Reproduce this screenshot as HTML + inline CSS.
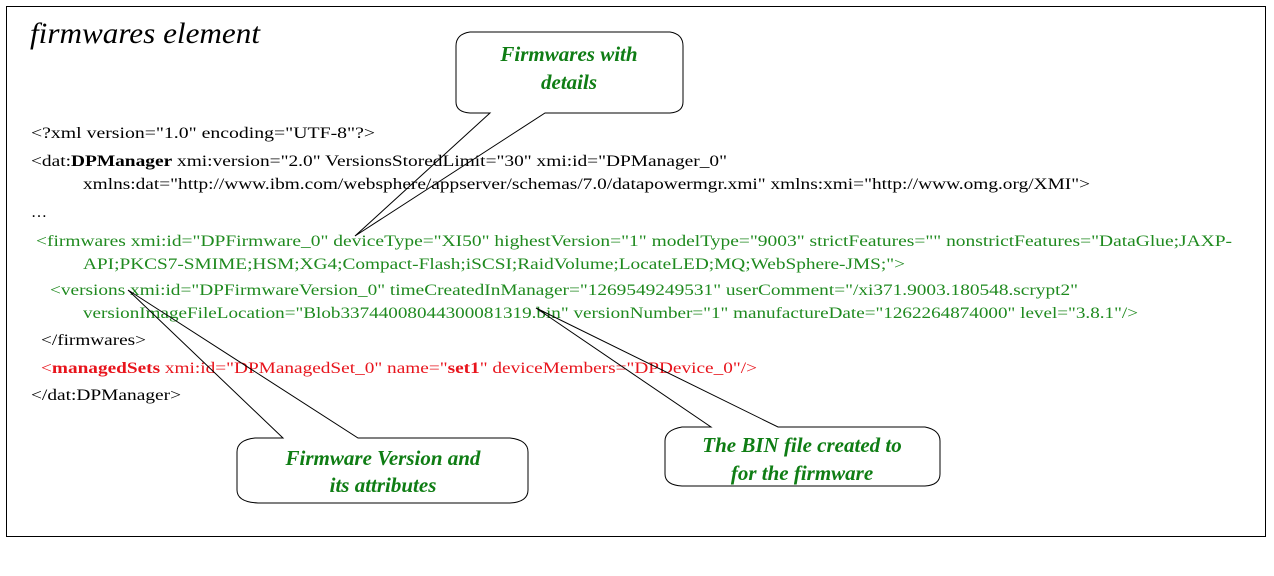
<!DOCTYPE html>
<html><head><meta charset="utf-8"><style>
html,body{margin:0;padding:0;background:#fff;}
svg{display:block}
text{font-family:"Liberation Serif",serif;}
.g{fill:#1f8a1f}
.b{fill:#000}
.r{fill:#e8141c}
.c{font-size:16px}
.bt{font-size:21px;font-weight:bold;font-style:italic;fill:#0f7d14}
</style></head><body>
<svg width="1274" height="576" viewBox="0 0 1274 576" xmlns="http://www.w3.org/2000/svg">
<rect x="0" y="0" width="1274" height="576" fill="#fff"/>
<rect x="6.5" y="6.5" width="1259" height="530" fill="none" stroke="#000" stroke-width="1"/>
<text x="30" y="43" font-size="30" font-style="italic" textLength="230" lengthAdjust="spacingAndGlyphs">firmwares element</text>

<g class="c">
<text class="b" x="31" y="138" textLength="344" lengthAdjust="spacingAndGlyphs">&lt;?xml version="1.0" encoding="UTF-8"?&gt;</text>
<text class="b" x="31" y="166" textLength="696" lengthAdjust="spacingAndGlyphs">&lt;dat:<tspan font-weight="bold">DPManager</tspan> xmi:version="2.0" VersionsStoredLimit="30" xmi:id="DPManager_0"</text>
<text class="b" x="83" y="189" textLength="1007" lengthAdjust="spacingAndGlyphs">xmlns:dat="http://www.ibm.com/websphere/appserver/schemas/7.0/datapowermgr.xmi" xmlns:xmi="http://www.omg.org/XMI"&gt;</text>
<text class="b" x="31" y="217">…</text>
<text class="g" x="36" y="246" textLength="1196" lengthAdjust="spacingAndGlyphs">&lt;firmwares xmi:id="DPFirmware_0" deviceType="XI50" highestVersion="1" modelType="9003" strictFeatures="" nonstrictFeatures="DataGlue;JAXP-</text>
<text class="g" x="83" y="269" textLength="822" lengthAdjust="spacingAndGlyphs">API;PKCS7-SMIME;HSM;XG4;Compact-Flash;iSCSI;RaidVolume;LocateLED;MQ;WebSphere-JMS;"&gt;</text>
<text class="g" x="50" y="295" textLength="1028" lengthAdjust="spacingAndGlyphs">&lt;versions xmi:id="DPFirmwareVersion_0" timeCreatedInManager="1269549249531" userComment="/xi371.9003.180548.scrypt2"</text>
<text class="g" x="83" y="318" textLength="1055" lengthAdjust="spacingAndGlyphs">versionImageFileLocation="Blob33744008044300081319.bin" versionNumber="1" manufactureDate="1262264874000" level="3.8.1"/&gt;</text>
<text class="b" x="41" y="345" textLength="105" lengthAdjust="spacingAndGlyphs">&lt;/firmwares&gt;</text>
<text class="r" x="41" y="373" textLength="716" lengthAdjust="spacingAndGlyphs">&lt;<tspan font-weight="bold">managedSets</tspan> xmi:id="DPManagedSet_0" name="<tspan font-weight="bold">set1</tspan>" deviceMembers="DPDevice_0"/&gt;</text>
<text class="b" x="31" y="400" textLength="150" lengthAdjust="spacingAndGlyphs">&lt;/dat:DPManager&gt;</text>
</g>

<g fill="none" stroke="#000" stroke-width="1">
<path d="M470,32 Q456,34 456,46 L456,102 Q456,112 470,113 L490,113 L355,236 L545,113 L670,113 Q683,112 683,102 L683,46 Q683,34 670,32 Z"/>
<path d="M255,438 Q237,440 237,452 L237,490 Q237,502 258,503 L510,503 Q528,502 528,490 L528,452 Q528,440 510,438 L358,438 L128,290 L283,438 Z"/>
<path d="M682,427 Q665,430 665,441 L665,474 Q665,485 682,486 L925,486 Q940,485 940,474 L940,441 Q940,430 925,427 L778,427 L536,308 L711,427 Z"/>
</g>

<text class="bt" x="569" y="61" text-anchor="middle">Firmwares with</text>
<text class="bt" x="569" y="89" text-anchor="middle">details</text>
<text class="bt" x="383" y="465" text-anchor="middle">Firmware Version and</text>
<text class="bt" x="383" y="492" text-anchor="middle">its attributes</text>
<text class="bt" x="802" y="452" text-anchor="middle">The BIN file created to</text>
<text class="bt" x="802" y="480" text-anchor="middle">for the firmware</text>
</svg>
</body></html>
